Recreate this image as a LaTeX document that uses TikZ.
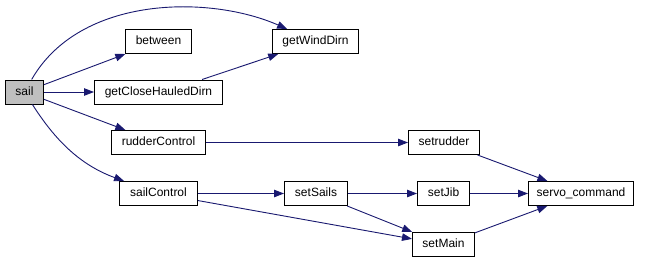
\documentclass[tikz,border=0pt]{standalone}
\usepackage{fontspec}
\setmainfont{Liberation Sans}
\usepackage{xcolor}
\usetikzlibrary{arrows.meta}

\definecolor{edgeblue}{HTML}{191970}
\definecolor{rootgray}{HTML}{BFBFBF}

\begin{document}
\begin{tikzpicture}[
  x=1pt, y=-1pt,
  fn/.style={draw, line width=1pt, fill=white, minimum height=24pt, inner xsep=0pt,
             text height=8.8pt, text depth=2.6pt, font=\fontsize{12}{14}\selectfont},
  call/.style={->, draw=edgeblue, line width=0.9pt},
  >={Triangle[length=10pt,width=7.5pt]}
]
  \useasboundingbox[fill=white] (0,0) rectangle (645,263);

  \node[fn, fill=rootgray, minimum width=38pt] (sail)          at (24.5, 92)    {sail};
  \node[fn, minimum width=66pt]                (between)       at (158.5, 41.5) {between};
  \node[fn, minimum width=128pt]               (closeHauled)   at (158.5, 92)   {getCloseHauledDirn};
  \node[fn, minimum width=86pt]                (windDirn)      at (315.5, 41.5) {getWindDirn};
  \node[fn, minimum width=94pt]                (rudderControl) at (158.5, 142.5){rudderControl};
  \node[fn, minimum width=78pt]                (sailControl)   at (158.5, 193.5){sailControl};
  \node[fn, minimum width=71pt]                (setrudder)     at (444, 142.5)  {setrudder};
  \node[fn, minimum width=63pt]                (setSails)      at (316, 193.5)  {setSails};
  \node[fn, minimum width=52pt]                (setJib)        at (443.5, 193.5){setJib};
  \node[fn, minimum width=62pt]                (setMain)       at (443.5, 244.5){setMain};
  \node[fn, minimum width=105pt]               (servo)         at (581, 193.5)  {servo\_command};

  % calls out of sail
  \draw[call] (sail) .. controls (80,-5) and (210,-5) .. (windDirn);
  \draw[call] (sail) -- (between);
  \draw[call] (sail) -- (closeHauled);
  \draw[call] (sail) -- (rudderControl);
  \draw[call] (sail) .. controls (55,140) and (80,165) .. (sailControl);
  \draw[call] (closeHauled.16) -- (windDirn);

  % rudder and sail chains
  \draw[call] (rudderControl) -- (setrudder);
  \draw[call] (sailControl) -- (setSails);
  \draw[call] (sailControl) -- (setMain);
  \draw[call] (setSails) -- (setJib);
  \draw[call] (setSails) -- (setMain);
  \draw[call] (setrudder) -- (servo);
  \draw[call] (setJib) -- (servo);
  \draw[call] (setMain) -- (servo);
\end{tikzpicture}
\end{document}
